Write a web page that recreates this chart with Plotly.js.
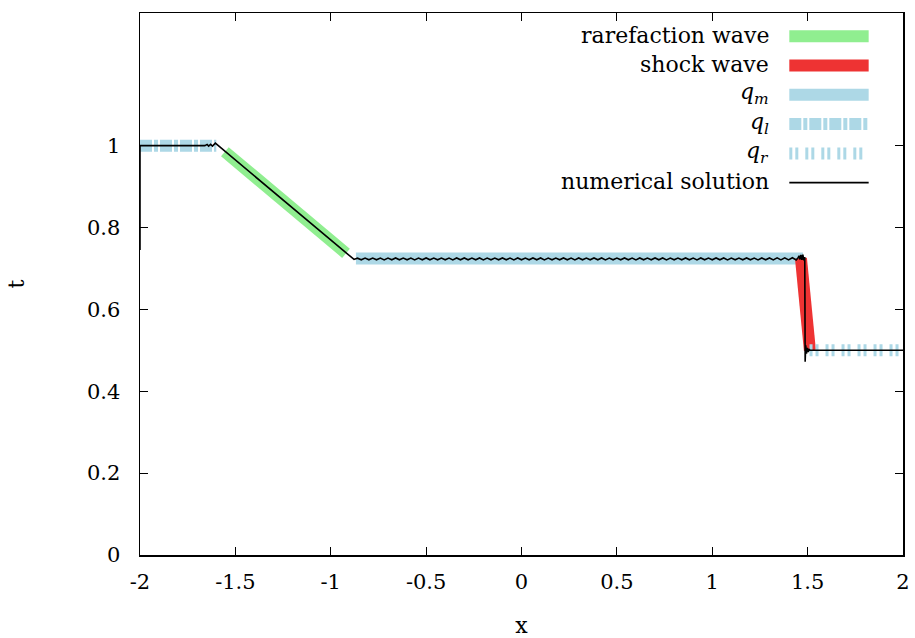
<!DOCTYPE html>
<html>
<head>
<meta charset="utf-8">
<script src="https://cdn.plot.ly/plotly-3.0.1.min.js"></script>
<style>html,body{margin:0;padding:0;background:#fff;}#chart{width:915px;height:638px;}</style>
</head>
<body>
<div id="chart"></div>
<script>
// ---- data ----
const xTickVals = [-2, -1.5, -1, -0.5, 0, 0.5, 1, 1.5, 2];
const xTickText = ["-2", "-1.5", "-1", "-0.5", "0", "0.5", "1", "1.5", "2"];
const yTickVals = [0, 0.2, 0.4, 0.6, 0.8, 1];
const yTickText = ["0", "0.2", "0.4", "0.6", "0.8", "1"];

// exact solution pieces
const qlX = [-2, -1.6];
const qlY = [1.0, 1.0];
const rareX = [-1.555, -0.92];
const rareY = [0.985, 0.737];
const qmX = [-0.868, 1.476];
const qmY = [0.724, 0.724];
const shockX = [1.465, 1.512];
const shockY = [0.725, 0.5];
const qrX = [1.51, 2];
const qrY = [0.5, 0.5];

// numerical solution
const numLeftX = [-2, -2, -1.7, -1.66, -1.648, -1.64, -1.63, -1.62, -1.605, -0.878];
const numLeftY = [0.745, 1.0, 1.0, 1.0, 1.003, 0.999, 1.003, 0.999, 1.006, 0.722];
const numMidX = [-0.86,-0.84,-0.82,-0.80,-0.78,-0.76,-0.74,-0.72,-0.70,-0.68,-0.66,-0.64,-0.62,-0.60,-0.58,-0.56,-0.54,-0.52,-0.50,-0.48,-0.46,-0.44,-0.42,-0.40,-0.38,-0.36,-0.34,-0.32,-0.30,-0.28,-0.26,-0.24,-0.22,-0.20,-0.18,-0.16,-0.14,-0.12,-0.10,-0.08,-0.06,-0.04,-0.02,0.00,0.02,0.04,0.06,0.08,0.10,0.12,0.14,0.16,0.18,0.20,0.22,0.24,0.26,0.28,0.30,0.32,0.34,0.36,0.38,0.40,0.42,0.44,0.46,0.48,0.50,0.52,0.54,0.56,0.58,0.60,0.62,0.64,0.66,0.68,0.70,0.72,0.74,0.76,0.78,0.80,0.82,0.84,0.86,0.88,0.90,0.92,0.94,0.96,0.98,1.00,1.02,1.04,1.06,1.08,1.10,1.12,1.14,1.16,1.18,1.20,1.22,1.24,1.26,1.28,1.30,1.32,1.34,1.36,1.38,1.40,1.42,1.44];
const numMidY = [0.7250,0.7212,0.7254,0.7211,0.7255,0.7212,0.7254,0.7210,0.7255,0.7212,0.7256,0.7211,0.7254,0.7212,0.7255,0.7210,0.7254,0.7211,0.7256,0.7212,0.7254,0.7211,0.7255,0.7212,0.7254,0.7210,0.7255,0.7211,0.7256,0.7212,0.7254,0.7211,0.7255,0.7210,0.7254,0.7212,0.7255,0.7211,0.7256,0.7212,0.7254,0.7210,0.7255,0.7211,0.7254,0.7212,0.7256,0.7211,0.7255,0.7210,0.7254,0.7212,0.7255,0.7211,0.7256,0.7212,0.7254,0.7210,0.7255,0.7211,0.7254,0.7212,0.7256,0.7211,0.7255,0.7210,0.7254,0.7212,0.7255,0.7211,0.7256,0.7212,0.7254,0.7210,0.7255,0.7211,0.7254,0.7212,0.7256,0.7211,0.7255,0.7210,0.7254,0.7212,0.7255,0.7211,0.7256,0.7212,0.7254,0.7210,0.7255,0.7211,0.7254,0.7212,0.7256,0.7211,0.7255,0.7210,0.7254,0.7212,0.7255,0.7211,0.7256,0.7212,0.7254,0.7210,0.7255,0.7211,0.7256,0.7210,0.7258,0.7209,0.7260,0.7208,0.7262,0.7207];
const numRightX = [1.45, 1.455, 1.46, 1.465, 1.47, 1.475, 1.48, 1.485, 1.487, 1.49, 1.494, 1.498, 1.503, 1.508, 1.515, 2];
const numRightY = [0.726, 0.731, 0.722, 0.733, 0.721, 0.734, 0.720, 0.728, 0.472, 0.512, 0.492, 0.506, 0.496, 0.502, 0.500, 0.500];

const numX = numLeftX.concat(numMidX, numRightX);
const numY = numLeftY.concat(numMidY, numRightY);

// legend
const legendNames = ["rarefaction wave", "shock wave", "<i>q</i><sub><i>m</i></sub>", "<i>q</i><sub><i>l</i></sub>", "<i>q</i><sub><i>r</i></sub>", "numerical solution"];
const legendColors = ["#90ee90", "#ee3333", "#add8e6", "#add8e6", "#add8e6", "#000000"];
const legendWidths = [12, 12, 12, 12, 12, 1.6];
const legendDashes = ["solid", "solid", "solid", "12px,2px,4px,2px", "3px,3px,3px,7px", "solid"];

// ---- plot ----
const FONT = "DejaVu Serif";
const BAND = 12;
const traces = [
  {x: qlX, y: qlY, mode: "lines", line: {color: legendColors[3], width: BAND, dash: legendDashes[3]}},
  {x: rareX, y: rareY, mode: "lines", line: {color: legendColors[0], width: BAND}},
  {x: qmX, y: qmY, mode: "lines", line: {color: legendColors[2], width: BAND}},
  {x: shockX, y: shockY, mode: "lines", line: {color: legendColors[1], width: BAND}},
  {x: qrX, y: qrY, mode: "lines", line: {color: legendColors[4], width: BAND, dash: legendDashes[4]}},
  {x: numX, y: numY, mode: "lines", line: {color: "#000", width: 1.6}}
];

const rowY = [0.959, 0.905, 0.851, 0.797, 0.743, 0.689];
const annotations = [];
const shapes = [];
for (let i = 0; i < legendNames.length; i++) {
  annotations.push({xref: "paper", yref: "paper", x: 0.827, y: rowY[i], xanchor: "right", yanchor: "middle",
    text: legendNames[i], showarrow: false, font: {family: FONT, size: 22, color: "#000"}});
  shapes.push({type: "line", xref: "paper", yref: "paper", x0: 0.851, x1: 0.955, y0: rowY[i] - 0.002, y1: rowY[i] - 0.002,
    line: {color: legendColors[i], width: legendWidths[i], dash: legendDashes[i]}});
}

const axisCommon = {showline: true, linecolor: "#000", linewidth: 1.5, mirror: "ticks", ticks: "inside",
  ticklen: 8, tickwidth: 1.2, tickcolor: "#000", showgrid: false, zeroline: false,
  tickfont: {family: FONT, size: 21, color: "#000"}};

const layout = {
  width: 915, height: 638,
  margin: {l: 140, r: 12, t: 13, b: 82.5},
  paper_bgcolor: "#fff", plot_bgcolor: "#fff",
  showlegend: false,
  font: {family: FONT, color: "#000"},
  xaxis: Object.assign({}, axisCommon, {range: [-2, 2], tickmode: "array", tickvals: xTickVals, ticktext: xTickText,
    ticklabelstandoff: 7, title: {text: "x", font: {family: FONT, size: 22}, standoff: 26}}),
  yaxis: Object.assign({}, axisCommon, {range: [0, 1.324], tickmode: "array", tickvals: yTickVals, ticktext: yTickText,
    ticklabelstandoff: 14, title: {text: "t", font: {family: FONT, size: 22}, standoff: 56}}),
  annotations: annotations,
  shapes: shapes
};

Plotly.newPlot("chart", traces, layout, {displayModeBar: false, staticPlot: true});
</script>
</body>
</html>
